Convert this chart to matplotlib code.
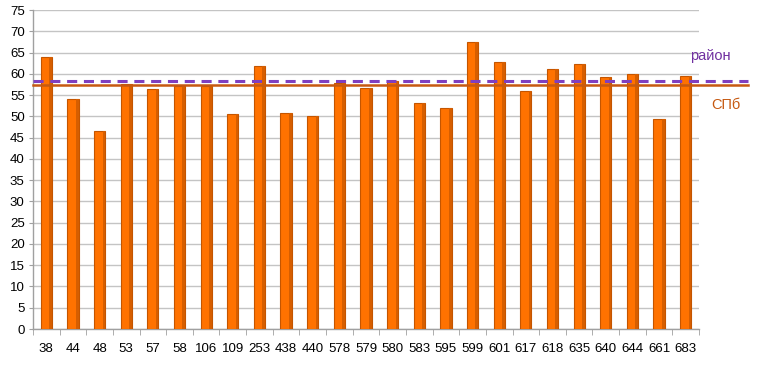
import numpy as np
import matplotlib
matplotlib.use("Agg")
import matplotlib.pyplot as plt

plt.rcParams['font.family'] = ['Liberation Sans', 'DejaVu Sans']

schools = ["38", "44", "48", "53", "57", "58", "106", "109", "253", "438", "440",
           "578", "579", "580", "583", "595", "599", "601", "617", "618", "635",
           "640", "644", "661", "683"]
scores = [63.9, 54.1, 46.6, 57.6, 56.4, 57.2, 57.2, 50.6, 61.9, 50.7, 50.1,
          57.9, 56.7, 58.2, 53.2, 52.0, 67.5, 62.8, 56.0, 61.1, 62.2,
          59.3, 59.9, 49.3, 59.5]
district_avg = 58.4
city_avg = 57.3

fig = plt.figure(figsize=(7.62, 3.65), dpi=100)
ax = fig.add_axes([0.0433, 0.0986, 0.8740, 0.874])

x = np.arange(len(schools))
bw = 0.42
ax.bar(x, scores, width=bw, color="#FF7200", edgecolor="#C45500", linewidth=0.8, zorder=3)
# darker right side for the 3d look
ax.bar(x + bw / 2 - 0.05, scores, width=0.1, color="#D65E00", linewidth=0, zorder=3)

ax.set_xlim(-0.5, len(schools) - 0.5)
ax.set_ylim(0, 75)
ax.set_yticks(np.arange(0, 76, 5))
ax.yaxis.grid(True, color="#C4C4C4", linewidth=1.0, zorder=0)
ax.set_axisbelow(True)

ax.set_xticks(x)
ax.set_xticklabels(schools)
ax.set_xticks(np.arange(-0.5, len(schools), 1), minor=True)
ax.tick_params(axis="x", which="major", length=0, pad=10, labelsize=9.5, colors="#000000")
ax.tick_params(axis="x", which="minor", length=4, color="#A0A0A0", direction="out")
ax.tick_params(axis="y", length=3, color="#A0A0A0", labelsize=9.5, pad=3)

for s in ["top", "right"]:
    ax.spines[s].set_visible(False)
for s in ["left", "bottom"]:
    ax.spines[s].set_color("#A0A0A0")
    ax.spines[s].set_linewidth(1.0)

xr = len(schools) - 0.5 + 1.84
ax.plot([-0.5, xr], [district_avg, district_avg], color="#7F3FBF", linestyle=(0, (3.3, 2.2)),
        linewidth=2.2, clip_on=False, zorder=4)
ax.plot([-0.5, xr], [city_avg, city_avg], color="#C65911", linewidth=1.8,
        clip_on=False, zorder=4)

ax.text(len(schools) - 0.5 - 0.35, 64.2, "район", color="#7030A0", fontsize=10.5,
        ha="left", va="center", clip_on=False)
ax.text(len(schools) - 0.5 + 0.45, 52.6, "СПб", color="#C65911", fontsize=10.5,
        ha="left", va="center", clip_on=False)

fig.savefig("out.png", dpi=100)
